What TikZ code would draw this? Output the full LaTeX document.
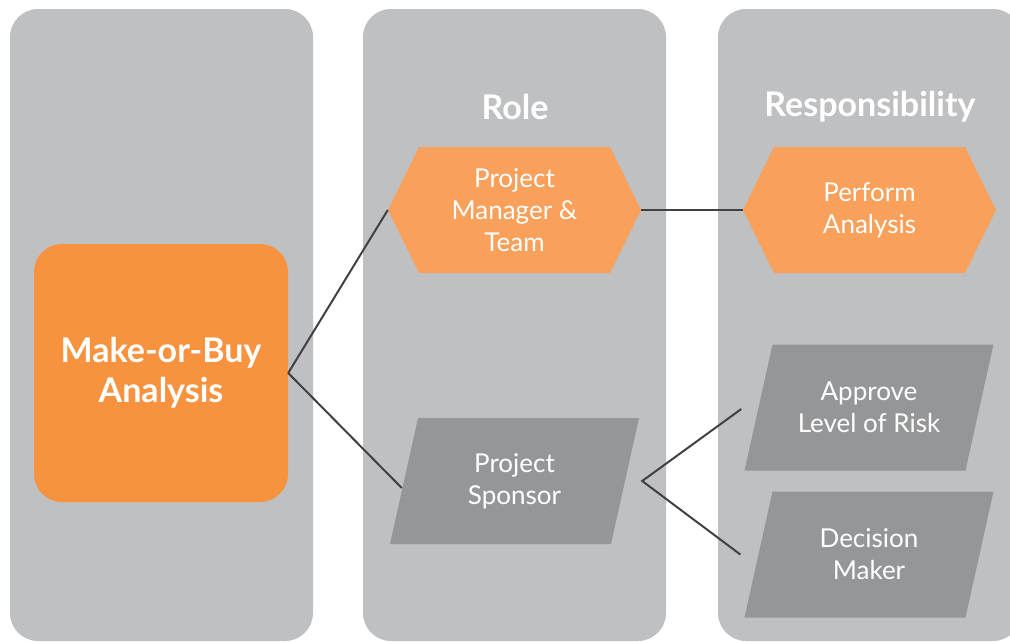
\documentclass[tikz,border=0pt]{standalone}
\usepackage{fontspec}
\setmainfont{Lato}
\usepackage{xcolor}
\usetikzlibrary{positioning, calc}
\definecolor{panel}{HTML}{BFC0C2}
\definecolor{mainorange}{HTML}{F7923F}
\definecolor{softorange}{HTML}{F9A05A}
\definecolor{darkpanel}{HTML}{959698}
\definecolor{wire}{HTML}{414042}

\begin{document}
\begin{tikzpicture}[
    x=1pt, y=-1pt,
    column/.style={fill=panel, rounded corners=28pt},
    header/.style={text=white, font=\fontsize{34}{38}\selectfont\bfseries},
    mainbox/.style={rectangle, fill=mainorange, rounded corners=28pt, text=white,
                    minimum width=254pt, minimum height=258pt, align=center,
                    font=\fontsize{34}{40}\selectfont\bfseries},
    rolehex/.style={rectangle, minimum width=253pt, minimum height=126pt, inner sep=0pt,
                    text=white, align=center, font=\fontsize{26}{32}\selectfont,
                    path picture={\fill[softorange]
                        ([xshift=31pt]path picture bounding box.north west)
                        -- ([xshift=-31pt]path picture bounding box.north east)
                        -- (path picture bounding box.east)
                        -- ([xshift=-31pt]path picture bounding box.south east)
                        -- ([xshift=31pt]path picture bounding box.south west)
                        -- (path picture bounding box.west) -- cycle;}},
    slantbox/.style={rectangle, minimum width=249pt, minimum height=126pt, inner sep=0pt,
                     text=white, align=center, font=\fontsize{26}{32}\selectfont,
                     path picture={\fill[darkpanel]
                        ([xshift=28pt]path picture bounding box.north west)
                        -- (path picture bounding box.north east)
                        -- ([xshift=-28pt]path picture bounding box.south east)
                        -- (path picture bounding box.south west) -- cycle;}},
    wireline/.style={draw=wire, line width=2pt}
]

\clip (0,0) rectangle (1010,641);

% Columns
\fill[column] (10,9) rectangle (313,641);
\fill[column] (363,9) rectangle (666,641);
\fill[column] (718,9) rectangle (1021,641);

% Headers
\node[header] (role) at (515,107) {Role};
\node[header] (resp) at (870,107) {Responsibility};

% Analysis
\node[mainbox] (mob) at (161,373) {Make-or-Buy\\Analysis};

% Roles
\node[rolehex] (pmt) at (514.5,210) {Project\\Manager \&\\Team};
\node[slantbox] (sponsor) at (514.5,481) {Project\\Sponsor};

% Responsibilities
\node[rolehex] (perform) at (869.5,210) {Perform\\Analysis};
\node[slantbox] (approve) at (869,407.5) {Approve\\Level of Risk};
\node[slantbox] (decide) at (869,554.5) {Decision\\Maker};

% Lines
\coordinate[right=3pt of sponsor.east] (fork);
\draw[wireline] (mob.east) -- (pmt.west);
\draw[wireline] (mob.east) -- ([xshift=12pt, yshift=-7pt]sponsor.west);
\draw[wireline] (pmt.east) -- (perform.west);
\draw[wireline] ([xshift=-3pt, yshift=-1.5pt]approve.west) -- (fork)
    -- ([xshift=-4pt]decide.west);

\end{tikzpicture}
\end{document}
